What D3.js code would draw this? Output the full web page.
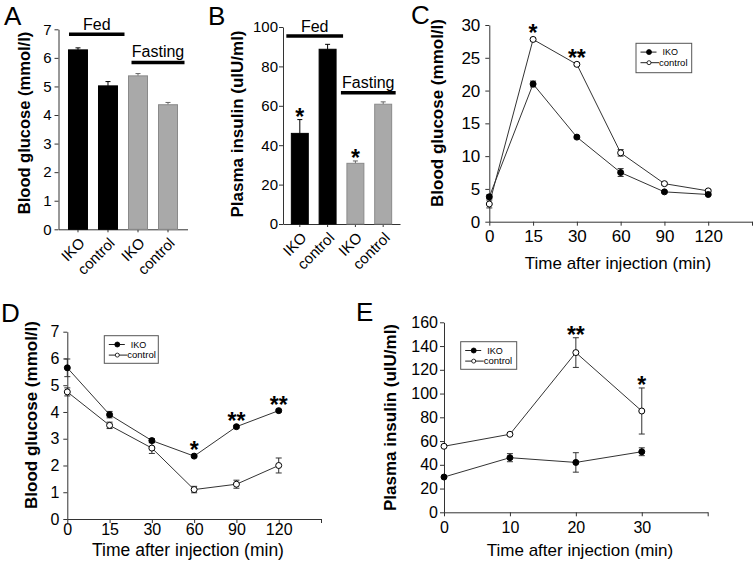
<!DOCTYPE html>
<html><head><meta charset="utf-8">
<script src="https://cdn.jsdelivr.net/npm/d3@7"></script>
<style>
body{margin:0;background:#fff}
svg{display:block}
text{font-family:"Liberation Sans", Arial, Helvetica, sans-serif;fill:#000}
</style>
</head><body>
<svg id="c" width="754" height="569"></svg>
<script>
// ---------- DATA ----------
const barCategories = ["IKO", "control", "IKO", "control"];
const barState = ["Fed", "Fed", "Fasting", "Fasting"];
const glucoseBarValues = [6.28, 5.02, 5.37, 4.36];
const glucoseBarErrors = [0.07, 0.15, 0.08, 0.08];
const glucoseBarStars = ["", "", "", ""];
const glucoseBarTicks = [0, 1, 2, 3, 4, 5, 6, 7];

const insulinBarValues = [46, 88.7, 30.8, 60.8];
const insulinBarErrors = [7, 2.5, 1.2, 1.2];
const insulinBarStars = ["*", "", "*", ""];
const insulinBarTicks = [0, 20, 40, 60, 80, 100];

const gttTimes = ["0", "15", "30", "60", "90", "120"];
const gttIKO = [3.8, 21.0, 12.9, 7.5, 4.55, 4.15];
const gttIKOErr = [0.3, 0.45, 0.2, 0.6, 0.15, 0.15];
const gttControl = [2.7, 27.8, 24.0, 10.5, 5.8, 4.7];
const gttControlErr = [0.6, 0.2, 0.2, 0.5, 0.2, 0.2];
const gttStars = ["", "*", "**", "", "", ""];
const gttTicks = [0, 5, 10, 15, 20, 25, 30];

const ittTimes = ["0", "15", "30", "60", "90", "120"];
const ittIKO = [5.65, 3.9, 2.93, 2.35, 3.45, 4.05];
const ittIKOErr = [0.33, 0.12, 0.07, 0.05, 0.05, 0.05];
const ittControl = [4.75, 3.5, 2.65, 1.1, 1.3, 2.0];
const ittControlErr = [0.15, 0.12, 0.2, 0.12, 0.15, 0.28];
const ittStars = ["", "", "", "*", "**", "**"];
const ittTicks = [0, 1, 2, 3, 4, 5, 6, 7];

const gsisTimes = [0, 10, 20, 30];
const gsisIKO = [29.7, 46, 42, 51];
const gsisIKOErr = [1, 3.4, 8.2, 3.3];
const gsisControl = [55.6, 65.7, 134.5, 85.3];
const gsisControlErr = [1, 1, 12.5, 19.4];
const gsisStars = ["", "", "**", "*"];
const gsisTicks = [0, 20, 40, 60, 80, 100, 120, 140, 160];
const gsisXTicks = [0, 10, 20, 30, 40];

const legendLabels = ["IKO", "control"];

// ---------- DRAWING ----------
const svg = d3.select("#c");
const FONT = '"Liberation Sans", Arial, Helvetica, sans-serif';
const AXIS = "#333";
const intFmt = d3.format("d");

function styleAxis(g, size) {
  g.attr("font-family", FONT).attr("font-size", size).attr("color", AXIS);
  g.selectAll(".tick text").attr("fill", "#000");
}
function letter(t, x, y) {
  svg.append("text").attr("x", x).attr("y", y).attr("font-size", 26).text(t);
}
function yTitle(t, x, cy, size) {
  svg.append("text").attr("transform", `translate(${x},${cy}) rotate(-90)`)
    .attr("text-anchor", "middle").attr("font-weight", "bold").attr("font-size", size).text(t);
}
function xTitle(t, cx, y, size) {
  svg.append("text").attr("x", cx).attr("y", y).attr("text-anchor", "middle")
    .attr("font-size", size).text(t);
}
function star(g, s, x, yTop, size) {
  if (!s) return;
  g.append("text").attr("x", x).attr("y", yTop + 5).attr("text-anchor", "middle")
    .attr("font-weight", "bold").attr("font-size", size).text(s);
}

function barPanel(o) {
  const g = svg.append("g");
  const x = d3.scaleBand().domain(d3.range(o.values.length)).range(o.xRange)
    .paddingInner(o.padIn).paddingOuter(o.padOut);
  const y = d3.scaleLinear().domain([0, d3.max(o.ticks)]).range(o.yRange);
  const ya = g.append("g").attr("transform", `translate(${o.xRange[0]},0)`)
    .call(d3.axisLeft(y).tickValues(o.ticks).tickFormat(intFmt)
      .tickSize(4).tickSizeOuter(0).tickPadding(o.yPad));
  styleAxis(ya, o.fs);
  const xa = g.append("g").attr("transform", `translate(0,${o.yRange[0]})`)
    .call(d3.axisBottom(x).tickSize(3).tickSizeOuter(0).tickFormat(""));
  styleAxis(xa, o.fs);
  const bw = x.bandwidth();
  o.values.forEach((v, i) => {
    const fed = o.state[i] === "Fed";
    const cx = x(i) + bw / 2;
    const yt = y(v + o.errors[i]);
    g.append("line").attr("x1", cx).attr("x2", cx).attr("y1", y(v)).attr("y2", yt)
      .attr("stroke", fed ? "#000" : "#666").attr("stroke-width", 1);
    g.append("line").attr("x1", cx - 2.5).attr("x2", cx + 2.5).attr("y1", yt).attr("y2", yt)
      .attr("stroke", fed ? "#000" : "#666").attr("stroke-width", 1);
    g.append("rect").attr("x", x(i)).attr("y", y(v)).attr("width", bw)
      .attr("height", y(0) - y(v))
      .attr("fill", fed ? "#000" : "#a9a9a9")
      .attr("stroke", fed ? "#000" : "#8a8a8a").attr("stroke-width", 1);
    star(g, o.stars[i], cx, yt, 23);
    g.append("text")
      .attr("transform", `translate(${cx + 4},${o.yRange[0] + 11}) rotate(-45)`)
      .attr("text-anchor", "end").attr("dy", "0.35em").attr("font-size", 15)
      .text(o.cats[i]);
  });
  const groups = ["Fed", "Fasting"];
  groups.forEach((gr, k) => {
    const idx = o.state.map((s, i) => s === gr ? i : -1).filter(i => i >= 0);
    const x1 = x(idx[0]) + o.grp[k].dx1;
    const x2 = x(idx[idx.length - 1]) + bw + o.grp[k].dx2;
    g.append("line").attr("x1", x1).attr("x2", x2).attr("y1", o.grp[k].y).attr("y2", o.grp[k].y)
      .attr("stroke", "#000").attr("stroke-width", 3.5);
    g.append("text").attr("x", (x1 + x2) / 2).attr("y", o.grp[k].ty)
      .attr("text-anchor", "middle").attr("font-size", 16).text(gr);
  });
}

function legend(x0, y0, w, h, rows) {
  const g = svg.append("g");
  g.append("rect").attr("x", x0).attr("y", y0).attr("width", w).attr("height", h)
    .attr("fill", "#fff").attr("stroke", "#555").attr("stroke-width", 1);
  rows.forEach((r, i) => {
    const yy = y0 + 8.8 + i * 10.6;
    const lx = x0 + 4.5;
    const len = i === 0 ? 16 : 18.5;
    g.append("line").attr("x1", lx).attr("x2", lx + len).attr("y1", yy).attr("y2", yy)
      .attr("stroke", "#222").attr("stroke-width", 1);
    g.append("circle").attr("cx", lx + 8.5).attr("cy", yy).attr("r", i === 0 ? 2.5 : 2)
      .attr("fill", i === 0 ? "#000" : "#fff").attr("stroke", "#000").attr("stroke-width", 0.8);
    g.append("text").attr("x", i === 0 ? lx + 22 : lx + len).attr("y", yy).attr("dy", "0.35em")
      .attr("font-size", i === 0 ? 9 : 9.5).text(r);
  });
}

function linePanel(o) {
  const g = svg.append("g");
  const y = d3.scaleLinear().domain([0, d3.max(o.yTicks)]).range(o.yRange);
  const ya = g.append("g").attr("transform", `translate(${o.x0},0)`)
    .call(d3.axisLeft(y).tickValues(o.yTicks).tickFormat(intFmt)
      .tickSize(4).tickSizeOuter(0).tickPadding(o.yPad));
  styleAxis(ya, o.fs);
  const xa = g.append("g").attr("transform", `translate(0,${o.yRange[0]})`).call(o.xAxis);
  styleAxis(xa, o.fs);
  const px = o.px;
  const line = d3.line().x((d, i) => px[i]).y(d => y(d));
  const series = [
    { v: o.ctrl, e: o.ctrlErr, filled: false },
    { v: o.iko, e: o.ikoErr, filled: true }
  ];
  series.forEach(s => {
    g.append("path").datum(s.v).attr("d", line).attr("fill", "none")
      .attr("stroke", "#333").attr("stroke-width", 1);
  });
  series.forEach(s => {
    s.v.forEach((v, i) => {
      const a = y(v + s.e[i]), b = y(v - s.e[i]);
      g.append("line").attr("x1", px[i]).attr("x2", px[i]).attr("y1", a).attr("y2", b)
        .attr("stroke", "#333").attr("stroke-width", 1);
      [a, b].forEach(yy => g.append("line").attr("x1", px[i] - 3).attr("x2", px[i] + 3)
        .attr("y1", yy).attr("y2", yy).attr("stroke", "#333").attr("stroke-width", 1));
    });
  });
  series.forEach(s => {
    s.v.forEach((v, i) => {
      g.append("circle").attr("cx", px[i]).attr("cy", y(v)).attr("r", 3)
        .attr("fill", s.filled ? "#000" : "#fff").attr("stroke", "#000").attr("stroke-width", 1);
    });
  });
  const starSeries = o.starOn === "ctrl" ? series[0] : series[1];
  o.stars.forEach((s, i) => {
    const top = Math.min(y(starSeries.v[i] + starSeries.e[i]), y(starSeries.v[i]) - 3);
    star(g, s, px[i], top, 23);
  });
  return y;
}

// ----- Panel A -----
letter("A", 4, 25);
barPanel({
  values: glucoseBarValues, errors: glucoseBarErrors, stars: glucoseBarStars,
  cats: barCategories, state: barState, ticks: glucoseBarTicks,
  xRange: [58.5, 187.5], yRange: [229.3, 29.3], padIn: 0.367, padOut: 0.333,
  yPad: 3, fs: 15,
  grp: [{ dx1: 0.5, dx2: 7, y: 34.3, ty: 30 },
        { dx1: 3, dx2: 7, y: 62.5, ty: 56.5 }]
});
yTitle("Blood glucose (mmol/l)", 30, 123, 16.5);

// ----- Panel B -----
letter("B", 208, 25);
barPanel({
  values: insulinBarValues, errors: insulinBarErrors, stars: insulinBarStars,
  cats: barCategories, state: barState, ticks: insulinBarTicks,
  xRange: [283, 400], yRange: [224, 27], padIn: 0.39, padOut: 0.3,
  yPad: 1, fs: 15,
  grp: [{ dx1: -5, dx2: 7, y: 36, ty: 31.5 },
        { dx1: -6, dx2: 4, y: 92.7, ty: 88.3 }]
});
yTitle("Plasma insulin (ulU/ml)", 243, 124, 17);

// ----- Panel C -----
letter("C", 411, 24);
{
  const x = d3.scalePoint().domain(gttTimes.concat([""])).range([489.3, 752]);
  linePanel({
    x0: 489.3, yRange: [221.7, 25], yTicks: gttTicks, yPad: 5, fs: 17,
    xAxis: d3.axisBottom(x).tickSize(4).tickSizeOuter(0).tickPadding(4),
    px: gttTimes.map(t => x(t)),
    iko: gttIKO, ikoErr: gttIKOErr, ctrl: gttControl, ctrlErr: gttControlErr,
    stars: gttStars, starOn: "ctrl"
  });
  legend(636, 43.3, 55.7, 29.4, legendLabels);
}
yTitle("Blood glucose (mmol/l)", 443, 113, 17);
xTitle("Time after injection (min)", 618, 269, 17);

// ----- Panel D -----
letter("D", 1, 322);
{
  const x = d3.scalePoint().domain(ittTimes.concat([""])).range([67.3, 321]);
  linePanel({
    x0: 67.3, yRange: [519, 331.7], yTicks: ittTicks, yPad: 4, fs: 16,
    xAxis: d3.axisBottom(x).tickSize(4).tickSizeOuter(0).tickPadding(1),
    px: ittTimes.map(t => x(t)),
    iko: ittIKO, ikoErr: ittIKOErr, ctrl: ittControl, ctrlErr: ittControlErr,
    stars: ittStars, starOn: "iko"
  });
  legend(104.3, 335.7, 54, 27.6, legendLabels);
}
yTitle("Blood glucose (mmol/l)", 37, 415, 17);
xTitle("Time after injection (min)", 188, 556, 17.5);

// ----- Panel E -----
letter("E", 356, 321);
{
  const x = d3.scaleLinear().domain([0, 40]).range([444, 707.7]);
  linePanel({
    x0: 444, yRange: [512.3, 322.3], yTicks: gsisTicks, yPad: 2, fs: 16,
    xAxis: d3.axisBottom(x).tickValues(gsisXTicks).tickFormat(d => d === 40 ? "" : d)
      .tickSize(4).tickSizeOuter(0).tickPadding(5),
    px: gsisTimes.map(t => x(t)),
    iko: gsisIKO, ikoErr: gsisIKOErr, ctrl: gsisControl, ctrlErr: gsisControlErr,
    stars: gsisStars, starOn: "ctrl"
  });
  legend(460.7, 341.7, 56, 27.6, legendLabels);
}
yTitle("Plasma insulin (ulU/ml)", 396, 417.5, 17);
xTitle("Time after injection (min)", 580, 555.5, 17);
</script>
</body></html>
